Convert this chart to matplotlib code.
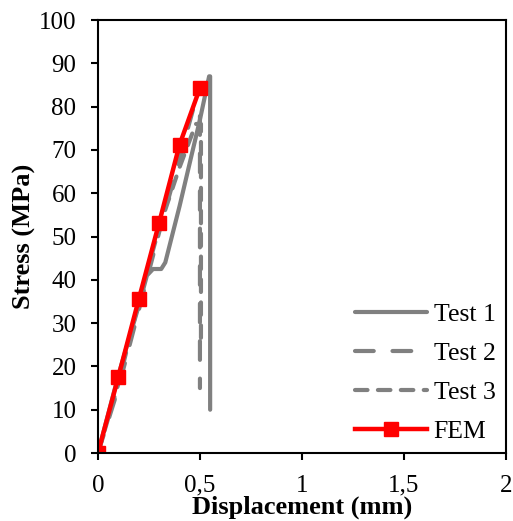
import matplotlib.pyplot as plt
import numpy as np

plt.rcParams['font.family'] = ['Liberation Serif', 'DejaVu Serif']

# data
test1_x = [0, 0.05, 0.1, 0.15, 0.2, 0.24, 0.27, 0.31, 0.33, 0.4, 0.45, 0.5, 0.545, 0.55, 0.55]
test1_y = [0, 9, 18, 26, 34, 41, 42.5, 42.5, 44, 57, 67, 77, 87, 87, 10]
test2_x = [0, 0.1, 0.2, 0.3, 0.4, 0.47, 0.5, 0.5]
test2_y = [0, 15, 33, 51, 68, 80, 80, 15]
test3_x = [0, 0.1, 0.2, 0.3, 0.4, 0.48, 0.505, 0.505]
test3_y = [0, 16, 35, 52, 66, 76, 76, 25]
fem_x = [0, 0.1, 0.2, 0.3, 0.4, 0.5]
fem_y = [0, 17.6, 35.5, 53.2, 71.2, 84.3]

xticks = [0, 0.5, 1, 1.5, 2]
xtick_labels = ['0', '0,5', '1', '1,5', '2']

fig = plt.figure(figsize=(5.13, 5.21), dpi=100)
ax = fig.add_axes([0.191, 0.1305, 0.795, 0.831])

grey = '#808080'
ax.plot(test1_x, test1_y, color=grey, lw=3, solid_capstyle='round', solid_joinstyle='round', label='Test 1')
ax.plot(test2_x, test2_y, color=grey, lw=3, dashes=(4.5, 4.5), dash_capstyle='round', label='Test 2')
ax.plot(test3_x, test3_y, color=grey, lw=3, dashes=(3, 2.5), dash_capstyle='round', label='Test 3')
ax.plot(fem_x, fem_y, color='#ff0000', lw=3.2, marker='s', markersize=10, label='FEM')

ax.set_xlim(0, 2)
ax.set_ylim(0, 100)
ax.set_xticks(xticks)
ax.set_xticklabels(xtick_labels)
ax.set_yticks(np.arange(0, 101, 10))
ax.tick_params(labelsize=18, width=1.5, length=5, direction='out', pad=10.5)
for s in ax.spines.values():
    s.set_linewidth(1.5)

ax.set_xlabel('Displacement (mm)', fontsize=19, fontweight='bold', labelpad=-1)
ax.set_ylabel('Stress (MPa)', fontsize=19, fontweight='bold', labelpad=2)

ax.legend(loc='lower right', frameon=False, fontsize=18.5, handlelength=2.8,
          handletextpad=0.25, labelspacing=0.62, borderaxespad=0.0)

fig.savefig('out.png', dpi=100)
